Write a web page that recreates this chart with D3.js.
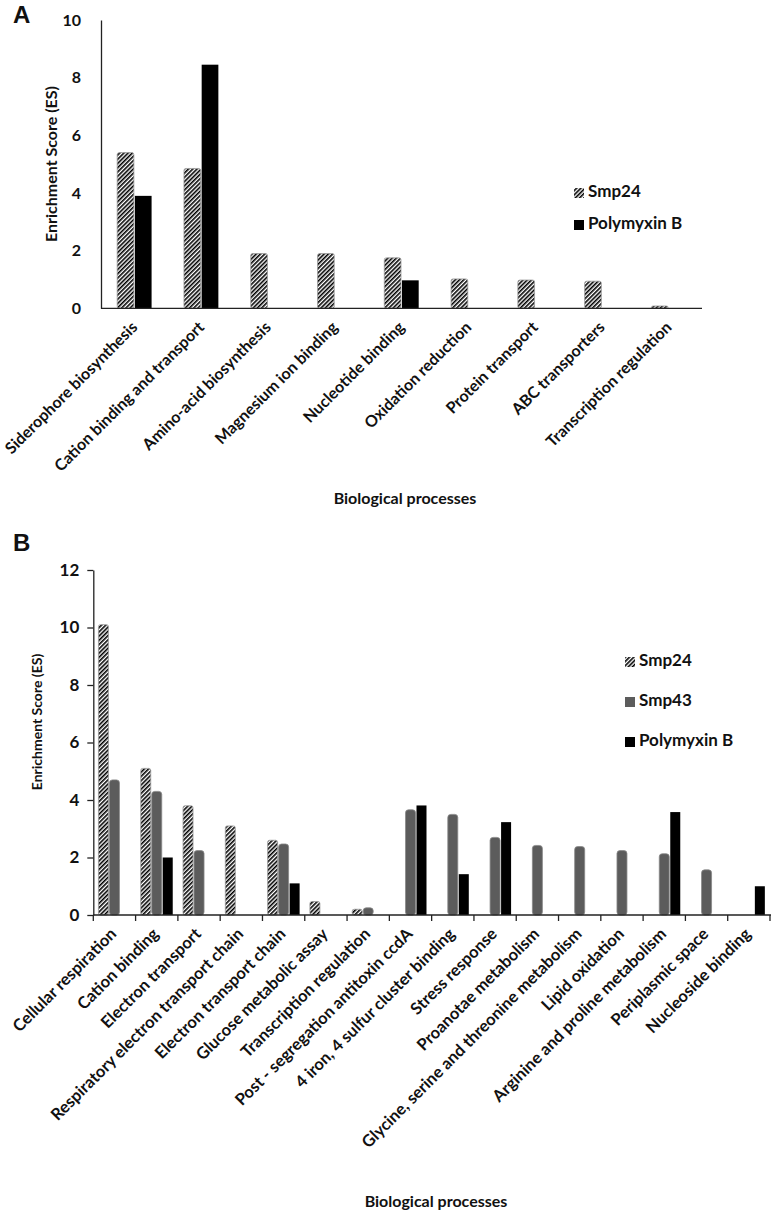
<!DOCTYPE html>
<html><head><meta charset="utf-8">
<script src="https://cdn.jsdelivr.net/npm/d3@7"></script>
<style>
body{margin:0;background:#fff}
text{font-family:Lato,"Open Sans",sans-serif;fill:#111}
</style>
</head><body>
<svg id="chart" width="771" height="1219"></svg>
<script>
// ---------- Panel A data ----------
const catsA = ["Siderophore biosynthesis","Cation binding and transport","Amino-acid biosynthesis",
  "Magnesium ion binding","Nucleotide binding","Oxidation reduction","Protein transport",
  "ABC transporters","Transcription regulation"];
const seriesA = ["Smp24","Polymyxin B"];
const smp24A = [5.4,4.85,1.9,1.9,1.75,1.02,0.98,0.94,0.08];
const polyA  = [3.9,8.45,0,0,0.97,0,0,0,0];
const yTicksA = [0,2,4,6,8,10];

// ---------- Panel B data ----------
const catsB = ["Cellular respiration","Cation binding","Electron transport",
  "Respiratory electron transport chain","Electron transport chain","Glucose metabolic assay",
  "Transcription regulation","Post - segregation antitoxin ccdA","4 iron, 4 sulfur cluster binding",
  "Stress response","Proanotae metabolism","Glycine, serine and threonine metabolism",
  "Lipid oxidation","Arginine and proline metabolism","Periplasmic space","Nucleoside binding"];
const seriesB = ["Smp24","Smp43","Polymyxin B"];
const smp24B = [10.1,5.1,3.8,3.1,2.6,0.47,0.2,0,0,0,0,0,0,0,0,0];
const smp43B = [4.7,4.3,2.24,0,2.47,0,0.25,3.66,3.5,2.7,2.42,2.38,2.24,2.13,1.57,0];
const polyB  = [0,2.0,0,0,1.1,0,0,3.81,1.42,3.23,0,0,0,3.58,0,1.0];
const yTicksB = [0,2,4,6,8,10,12];

const svg = d3.select("#chart");
const defs = svg.append("defs");
const pat = defs.append("pattern").attr("id","hatch").attr("patternUnits","userSpaceOnUse")
  .attr("width",3).attr("height",3).attr("patternTransform","rotate(45)");
pat.append("rect").attr("width",3).attr("height",3).attr("fill","#fff");
pat.append("rect").attr("width",1.6).attr("height",3).attr("fill","#000");

const styles = {
  "Smp24": {fill:"url(#hatch)", stroke:"#999", rx:2},
  "Smp43": {fill:"#5c5c5c", stroke:"#888", rx:3},
  "Polymyxin B": {fill:"#000", stroke:"none", rx:0}
};

function panel(o){
  const g = svg.append("g");
  const x0 = d3.scaleBand().domain(o.cats).range([o.xl,o.xr])
    .paddingInner(o.pi).paddingOuter(o.po);
  const x1 = d3.scaleBand().domain(o.series).range([0,x0.bandwidth()]);
  const y = d3.scaleLinear().domain([0,o.max]).range([o.y0,o.yt]);

  // bars
  o.series.forEach((s,si)=>{
    const vals = o.values[si];
    const st = styles[s];
    g.append("g").selectAll("rect").data(o.cats.map((c,i)=>({c,v:vals[i]})).filter(d=>d.v>0))
      .join("rect")
      .attr("x",d=>x0(d.c)+x1(s)+0.5)
      .attr("width",x1.bandwidth()-1)
      .attr("y",d=>y(d.v))
      .attr("height",d=>y(0)-y(d.v))
      .attr("rx",st.rx)
      .attr("fill",st.fill).attr("stroke",st.stroke).attr("stroke-width",0.8);
  });

  // y axis
  const ya = g.append("g").attr("transform",`translate(${o.xl},0)`)
    .call(d3.axisLeft(y).tickValues(o.yticks).tickSize(o.ytick).tickSizeOuter(0).tickPadding(o.ypad));
  ya.select(".domain").attr("stroke","#222").attr("stroke-width",1.3);
  ya.selectAll(".tick line").attr("stroke","#222").attr("stroke-width",1.3);
  ya.selectAll(".tick text").style("font-size",o.yfs+"px").style("font-weight","700")
    .style("font-family","Lato,sans-serif").attr("fill","#111");

  // x axis line
  g.append("line").attr("x1",o.xl).attr("x2",o.xaxisEnd).attr("y1",y(0)).attr("y2",y(0))
    .attr("stroke","#222").attr("stroke-width",1.3);
  if(o.xticks){
    const step = x0.step();
    const edges = o.cats.map(c=>x0(c)-step*o.pi/2).concat([x0(o.cats[o.cats.length-1])+x0.bandwidth()+step*o.pi/2]);
    g.append("g").selectAll("line").data(edges).join("line")
      .attr("x1",d=>d).attr("x2",d=>d).attr("y1",y(0)).attr("y2",y(0)+6)
      .attr("stroke","#222").attr("stroke-width",1.3);
  }

  // category labels
  g.append("g").selectAll("text").data(o.cats).join("text")
    .attr("transform",d=>`translate(${x0(d)+x0.bandwidth()/2+o.lx},${y(0)+o.ly}) rotate(-45)`)
    .attr("text-anchor","end")
    .style("font-size",o.lfs+"px").style("font-weight","700")
    .text(d=>d);

  // axis titles
  g.append("text").attr("transform",`translate(${o.ytx},${o.yty}) rotate(-90)`)
    .attr("text-anchor","middle").attr("dominant-baseline","middle")
    .style("font-size",o.ytfs+"px").style("font-weight","700").text("Enrichment Score (ES)");
  g.append("text").attr("x",o.xtx).attr("y",o.xty).attr("text-anchor","middle")
    .attr("dominant-baseline","middle")
    .style("font-size","16px").style("font-weight","700").text("Biological processes");

  // panel letter
  g.append("text").attr("x",o.px).attr("y",o.py).attr("dominant-baseline","middle")
    .style("font-family","'Liberation Sans',Arial,sans-serif").style("font-size","24px")
    .style("font-weight","700").text(o.letter);

  // legend
  const lg = g.append("g");
  o.series.forEach((s,i)=>{
    const st = styles[s];
    const cy = o.legY + i*o.legGap;
    lg.append("rect").attr("x",o.legX).attr("y",cy-5).attr("width",10).attr("height",10)
      .attr("fill",st.fill);
    lg.append("text").attr("x",o.legX+14).attr("y",cy).attr("dominant-baseline","middle")
      .style("font-size","17px").style("font-weight","700").text(s);
  });
}

panel({cats:catsA, series:seriesA, values:[smp24A,polyA], max:10, yticks:yTicksA,
  xl:101, xr:702, xaxisEnd:702, y0:308.3, yt:20, pi:0.47, po:0.235,
  ytick:0, ypad:20, yfs:16, xticks:false, lx:4, ly:20, lfs:16,
  ytx:53, yty:164, ytfs:16, xtx:405, xty:500, px:13, py:17, letter:"A",
  legX:574, legY:193, legGap:32});

panel({cats:catsB, series:seriesB, values:[smp24B,smp43B,polyB], max:12, yticks:yTicksB,
  xl:93.3, xr:770, xaxisEnd:771, y0:915, yt:570, pi:0.22, po:0.11,
  ytick:6, ypad:8, yfs:17, xticks:true, lx:3, ly:20, lfs:16.5,
  ytx:38, yty:722, ytfs:14, xtx:436, xty:1203, px:13, py:545, letter:"B",
  legX:625, legY:662, legGap:40});
</script>
</body></html>
